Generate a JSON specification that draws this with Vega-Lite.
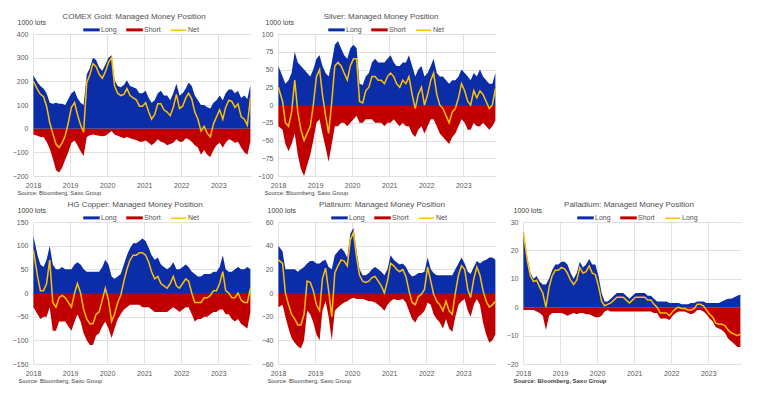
{
"$schema": "https://vega.github.io/schema/vega-lite/v6.json",
"background": "white",
"padding": {"left": 12, "top": 13, "right": 10, "bottom": 10},
"columns": 3,
"bounds": "flush",
"spacing": {"row": 46, "column": 27},
"resolve": {"scale": {"color": "independent"}, "legend": {"color": "independent"}},
"config": {
 "font": "Liberation Sans",
 "view": {"stroke": null},
 "axis": {"labelFontSize": 7, "labelColor": "#595959", "domain": false, "ticks": false, "gridColor": "#d9d9d9", "gridWidth": 0.8, "titleFontWeight": "normal", "titleColor": "#404040"},
 "axisX": {"labelFlush": false, "labelPadding": 5, "titleFontSize": 5.8, "titleAnchor": "start", "titleAlign": "left", "titleBaseline": "alphabetic", "titleY": 18, "grid": true},
 "axisY": {"labelPadding": 5, "titleAngle": 0, "titleAlign": "left", "titleBaseline": "alphabetic", "titleY": -10, "titleFontSize": 7, "grid": true},
 "title": {"fontSize": 8, "fontWeight": "normal", "color": "#505050", "anchor": "middle", "frame": "group", "offset": 0, "dy": 7, "baseline": "alphabetic"},
 "legend": {"labelFontSize": 7, "labelColor": "#505050", "symbolSize": 225, "columnPadding": 7, "labelOffset": 1, "padding": 0}
},
"datasets": {
 "gold": [
  {"d":"2018-01-05","L":225,"S":-25,"N":200},{"d":"2018-02-15","L":195,"S":-30,"N":165},{"d":"2018-03-15","L":180,"S":-35,"N":145},{"d":"2018-04-15","L":170,"S":-35,"N":135},{"d":"2018-05-15","L":150,"S":-55,"N":95},{"d":"2018-06-15","L":110,"S":-85,"N":25},{"d":"2018-07-15","L":105,"S":-125,"N":-20},{"d":"2018-08-15","L":110,"S":-175,"N":-65},{"d":"2018-09-15","L":105,"S":-185,"N":-80},{"d":"2018-10-15","L":105,"S":-165,"N":-60},{"d":"2018-11-15","L":100,"S":-130,"N":-30},{"d":"2018-12-15","L":125,"S":-100,"N":25},
  {"d":"2019-01-15","L":150,"S":-60,"N":90},{"d":"2019-02-15","L":160,"S":-50,"N":110},{"d":"2019-03-15","L":130,"S":-70,"N":60},{"d":"2019-04-15","L":110,"S":-95,"N":15},{"d":"2019-05-15","L":100,"S":-115,"N":-15},{"d":"2019-06-15","L":230,"S":-35,"N":195},{"d":"2019-07-15","L":255,"S":-28,"N":227},{"d":"2019-08-15","L":300,"S":-25,"N":275},{"d":"2019-09-15","L":290,"S":-28,"N":262},{"d":"2019-10-15","L":260,"S":-30,"N":230},{"d":"2019-11-15","L":245,"S":-32,"N":213},{"d":"2019-12-15","L":270,"S":-30,"N":240},
  {"d":"2020-01-15","L":300,"S":-20,"N":280},{"d":"2020-02-15","L":310,"S":-10,"N":300},{"d":"2020-03-15","L":205,"S":-25,"N":180},{"d":"2020-04-15","L":180,"S":-30,"N":150},{"d":"2020-05-15","L":175,"S":-35,"N":140},{"d":"2020-06-15","L":185,"S":-40,"N":145},{"d":"2020-07-15","L":205,"S":-35,"N":170},{"d":"2020-08-15","L":180,"S":-40,"N":140},{"d":"2020-09-15","L":175,"S":-45,"N":130},{"d":"2020-10-15","L":170,"S":-48,"N":122},{"d":"2020-11-15","L":150,"S":-55,"N":95},{"d":"2020-12-15","L":150,"S":-55,"N":95},
  {"d":"2021-01-15","L":160,"S":-50,"N":110},{"d":"2021-02-15","L":130,"S":-60,"N":70},{"d":"2021-03-15","L":110,"S":-70,"N":40},{"d":"2021-04-15","L":120,"S":-60,"N":60},{"d":"2021-05-15","L":150,"S":-45,"N":105},{"d":"2021-06-15","L":160,"S":-55,"N":105},{"d":"2021-07-15","L":140,"S":-60,"N":80},{"d":"2021-08-15","L":140,"S":-70,"N":70},{"d":"2021-09-15","L":120,"S":-65,"N":55},{"d":"2021-10-15","L":150,"S":-60,"N":90},{"d":"2021-11-15","L":190,"S":-45,"N":145},{"d":"2021-12-15","L":140,"S":-55,"N":85},
  {"d":"2022-01-15","L":150,"S":-55,"N":95},{"d":"2022-02-15","L":170,"S":-40,"N":130},{"d":"2022-03-15","L":195,"S":-45,"N":150},{"d":"2022-04-15","L":180,"S":-55,"N":125},{"d":"2022-05-15","L":140,"S":-70,"N":70},{"d":"2022-06-15","L":120,"S":-80,"N":40},{"d":"2022-07-15","L":100,"S":-110,"N":-10},{"d":"2022-08-15","L":100,"S":-90,"N":10},{"d":"2022-09-15","L":90,"S":-110,"N":-20},{"d":"2022-10-15","L":85,"S":-120,"N":-35},{"d":"2022-11-15","L":110,"S":-90,"N":20},{"d":"2022-12-15","L":120,"S":-70,"N":50},
  {"d":"2023-01-15","L":140,"S":-60,"N":80},{"d":"2023-02-15","L":120,"S":-80,"N":40},{"d":"2023-03-15","L":150,"S":-60,"N":90},{"d":"2023-04-15","L":165,"S":-45,"N":120},{"d":"2023-05-15","L":165,"S":-50,"N":115},{"d":"2023-06-15","L":150,"S":-60,"N":90},{"d":"2023-07-15","L":160,"S":-55,"N":105},{"d":"2023-08-15","L":130,"S":-80,"N":50},{"d":"2023-09-15","L":140,"S":-100,"N":40},{"d":"2023-10-15","L":125,"S":-110,"N":15},{"d":"2023-11-14","L":185,"S":-55,"N":130}
 ],
 "silver": [
  {"d":"2018-01-05","L":55,"S":-30,"N":25},{"d":"2018-02-15","L":40,"S":-35,"N":5},{"d":"2018-03-15","L":30,"S":-55,"N":-25},{"d":"2018-04-15","L":35,"S":-65,"N":-30},{"d":"2018-05-15","L":45,"S":-55,"N":-10},{"d":"2018-06-15","L":75,"S":-40,"N":35},{"d":"2018-07-15","L":60,"S":-70,"N":-10},{"d":"2018-08-15","L":55,"S":-90,"N":-35},{"d":"2018-09-15","L":50,"S":-100,"N":-50},{"d":"2018-10-15","L":45,"S":-85,"N":-40},{"d":"2018-11-15","L":40,"S":-70,"N":-30},{"d":"2018-12-15","L":50,"S":-50,"N":0},
  {"d":"2019-01-15","L":65,"S":-25,"N":40},{"d":"2019-02-15","L":70,"S":-20,"N":50},{"d":"2019-03-15","L":55,"S":-40,"N":15},{"d":"2019-04-15","L":45,"S":-60,"N":-15},{"d":"2019-05-15","L":40,"S":-80,"N":-40},{"d":"2019-06-15","L":60,"S":-55,"N":5},{"d":"2019-07-15","L":85,"S":-30,"N":55},{"d":"2019-08-15","L":90,"S":-30,"N":60},{"d":"2019-09-15","L":80,"S":-25,"N":55},{"d":"2019-10-15","L":70,"S":-25,"N":45},{"d":"2019-11-15","L":65,"S":-30,"N":35},{"d":"2019-12-15","L":80,"S":-25,"N":55},
  {"d":"2020-01-15","L":85,"S":-20,"N":65},{"d":"2020-02-15","L":80,"S":-15,"N":65},{"d":"2020-03-15","L":30,"S":-25,"N":5},{"d":"2020-04-15","L":28,"S":-25,"N":3},{"d":"2020-05-15","L":40,"S":-20,"N":20},{"d":"2020-06-15","L":45,"S":-20,"N":25},{"d":"2020-07-15","L":60,"S":-20,"N":40},{"d":"2020-08-15","L":65,"S":-25,"N":40},{"d":"2020-09-15","L":60,"S":-25,"N":35},{"d":"2020-10-15","L":60,"S":-25,"N":35},{"d":"2020-11-15","L":60,"S":-30,"N":30},{"d":"2020-12-15","L":65,"S":-25,"N":40},
  {"d":"2021-01-15","L":70,"S":-25,"N":45},{"d":"2021-02-15","L":60,"S":-20,"N":40},{"d":"2021-03-15","L":55,"S":-25,"N":30},{"d":"2021-04-15","L":55,"S":-30,"N":25},{"d":"2021-05-15","L":60,"S":-25,"N":35},{"d":"2021-06-15","L":60,"S":-30,"N":30},{"d":"2021-07-15","L":70,"S":-30,"N":40},{"d":"2021-08-15","L":55,"S":-40,"N":15},{"d":"2021-09-15","L":40,"S":-45,"N":-5},{"d":"2021-10-15","L":50,"S":-35,"N":15},{"d":"2021-11-15","L":55,"S":-30,"N":25},{"d":"2021-12-15","L":40,"S":-40,"N":0},
  {"d":"2022-01-15","L":45,"S":-30,"N":15},{"d":"2022-02-15","L":55,"S":-20,"N":35},{"d":"2022-03-15","L":65,"S":-20,"N":45},{"d":"2022-04-15","L":45,"S":-30,"N":15},{"d":"2022-05-15","L":40,"S":-40,"N":0},{"d":"2022-06-15","L":40,"S":-45,"N":-5},{"d":"2022-07-15","L":35,"S":-50,"N":-15},{"d":"2022-08-15","L":30,"S":-55,"N":-25},{"d":"2022-09-15","L":35,"S":-45,"N":-10},{"d":"2022-10-15","L":35,"S":-40,"N":-5},{"d":"2022-11-15","L":40,"S":-30,"N":10},{"d":"2022-12-15","L":50,"S":-20,"N":30},
  {"d":"2023-01-15","L":45,"S":-25,"N":20},{"d":"2023-02-15","L":40,"S":-35,"N":5},{"d":"2023-03-15","L":35,"S":-35,"N":0},{"d":"2023-04-15","L":45,"S":-25,"N":20},{"d":"2023-05-15","L":40,"S":-30,"N":10},{"d":"2023-06-15","L":50,"S":-30,"N":20},{"d":"2023-07-15","L":40,"S":-25,"N":15},{"d":"2023-08-15","L":35,"S":-30,"N":5},{"d":"2023-09-15","L":30,"S":-35,"N":-5},{"d":"2023-10-15","L":30,"S":-30,"N":0},{"d":"2023-11-14","L":45,"S":-22,"N":23}
 ],
 "copper": [
  {"d":"2018-01-05","L":120,"S":-30,"N":90},{"d":"2018-02-15","L":80,"S":-45,"N":35},{"d":"2018-03-15","L":60,"S":-55,"N":5},{"d":"2018-04-15","L":55,"S":-50,"N":5},{"d":"2018-05-15","L":70,"S":-50,"N":20},{"d":"2018-06-15","L":100,"S":-30,"N":70},{"d":"2018-07-15","L":60,"S":-80,"N":-20},{"d":"2018-08-15","L":50,"S":-80,"N":-30},{"d":"2018-09-15","L":50,"S":-60,"N":-10},{"d":"2018-10-15","L":55,"S":-60,"N":-5},{"d":"2018-11-15","L":50,"S":-60,"N":-10},{"d":"2018-12-15","L":50,"S":-70,"N":-20},
  {"d":"2019-01-15","L":50,"S":-80,"N":-30},{"d":"2019-02-15","L":60,"S":-60,"N":0},{"d":"2019-03-15","L":65,"S":-45,"N":20},{"d":"2019-04-15","L":60,"S":-60,"N":0},{"d":"2019-05-15","L":50,"S":-85,"N":-35},{"d":"2019-06-15","L":45,"S":-100,"N":-55},{"d":"2019-07-15","L":45,"S":-110,"N":-65},{"d":"2019-08-15","L":45,"S":-110,"N":-65},{"d":"2019-09-15","L":45,"S":-90,"N":-45},{"d":"2019-10-15","L":45,"S":-85,"N":-40},{"d":"2019-11-15","L":55,"S":-70,"N":-15},{"d":"2019-12-15","L":70,"S":-60,"N":10},
  {"d":"2020-01-15","L":60,"S":-75,"N":-15},{"d":"2020-02-15","L":35,"S":-95,"N":-60},{"d":"2020-03-15","L":30,"S":-75,"N":-45},{"d":"2020-04-15","L":35,"S":-55,"N":-20},{"d":"2020-05-15","L":40,"S":-45,"N":-5},{"d":"2020-06-15","L":60,"S":-35,"N":25},{"d":"2020-07-15","L":80,"S":-30,"N":50},{"d":"2020-08-15","L":95,"S":-25,"N":70},{"d":"2020-09-15","L":105,"S":-25,"N":80},{"d":"2020-10-15","L":105,"S":-25,"N":80},{"d":"2020-11-15","L":110,"S":-25,"N":85},{"d":"2020-12-15","L":115,"S":-30,"N":85},
  {"d":"2021-01-15","L":110,"S":-30,"N":80},{"d":"2021-02-15","L":95,"S":-30,"N":65},{"d":"2021-03-15","L":80,"S":-35,"N":45},{"d":"2021-04-15","L":70,"S":-40,"N":30},{"d":"2021-05-15","L":75,"S":-40,"N":35},{"d":"2021-06-15","L":60,"S":-40,"N":20},{"d":"2021-07-15","L":55,"S":-40,"N":15},{"d":"2021-08-15","L":50,"S":-40,"N":10},{"d":"2021-09-15","L":55,"S":-35,"N":20},{"d":"2021-10-15","L":65,"S":-30,"N":35},{"d":"2021-11-15","L":50,"S":-35,"N":15},{"d":"2021-12-15","L":50,"S":-40,"N":10},
  {"d":"2022-01-15","L":55,"S":-35,"N":20},{"d":"2022-02-15","L":60,"S":-30,"N":30},{"d":"2022-03-15","L":55,"S":-30,"N":25},{"d":"2022-04-15","L":45,"S":-45,"N":0},{"d":"2022-05-15","L":40,"S":-60,"N":-20},{"d":"2022-06-15","L":35,"S":-55,"N":-20},{"d":"2022-07-15","L":35,"S":-55,"N":-20},{"d":"2022-08-15","L":40,"S":-50,"N":-10},{"d":"2022-09-15","L":40,"S":-50,"N":-10},{"d":"2022-10-15","L":40,"S":-45,"N":-5},{"d":"2022-11-15","L":45,"S":-40,"N":5},{"d":"2022-12-15","L":45,"S":-40,"N":5},
  {"d":"2023-01-15","L":55,"S":-35,"N":20},{"d":"2023-02-15","L":80,"S":-35,"N":45},{"d":"2023-03-15","L":50,"S":-45,"N":5},{"d":"2023-04-15","L":45,"S":-45,"N":0},{"d":"2023-05-15","L":45,"S":-55,"N":-10},{"d":"2023-06-15","L":50,"S":-60,"N":-10},{"d":"2023-07-15","L":55,"S":-55,"N":0},{"d":"2023-08-15","L":50,"S":-65,"N":-15},{"d":"2023-09-15","L":50,"S":-70,"N":-20},{"d":"2023-10-15","L":55,"S":-75,"N":-20},{"d":"2023-11-14","L":50,"S":-40,"N":10}
 ],
 "plat": [
  {"d":"2018-01-05","L":40,"S":-12,"N":28},{"d":"2018-02-15","L":35,"S":-10,"N":25},{"d":"2018-03-15","L":20,"S":-20,"N":0},{"d":"2018-04-15","L":20,"S":-30,"N":-10},{"d":"2018-05-15","L":20,"S":-38,"N":-18},{"d":"2018-06-15","L":20,"S":-42,"N":-22},{"d":"2018-07-15","L":18,"S":-45,"N":-27},{"d":"2018-08-15","L":20,"S":-47,"N":-27},{"d":"2018-09-15","L":22,"S":-40,"N":-18},{"d":"2018-10-15","L":25,"S":-15,"N":10},{"d":"2018-11-15","L":27,"S":-18,"N":9},{"d":"2018-12-15","L":27,"S":-25,"N":2},
  {"d":"2019-01-15","L":25,"S":-35,"N":-10},{"d":"2019-02-15","L":25,"S":-40,"N":-15},{"d":"2019-03-15","L":27,"S":-15,"N":12},{"d":"2019-04-15","L":28,"S":-7,"N":21},{"d":"2019-05-15","L":22,"S":-20,"N":2},{"d":"2019-06-15","L":20,"S":-40,"N":-20},{"d":"2019-07-15","L":32,"S":-15,"N":17},{"d":"2019-08-15","L":35,"S":-12,"N":23},{"d":"2019-09-15","L":38,"S":-10,"N":28},{"d":"2019-10-15","L":35,"S":-8,"N":27},{"d":"2019-11-15","L":30,"S":-7,"N":23},{"d":"2019-12-15","L":50,"S":-5,"N":45},
  {"d":"2020-01-15","L":55,"S":-4,"N":51},{"d":"2020-02-15","L":35,"S":-5,"N":30},{"d":"2020-03-15","L":20,"S":-5,"N":15},{"d":"2020-04-15","L":15,"S":-5,"N":10},{"d":"2020-05-15","L":15,"S":-6,"N":9},{"d":"2020-06-15","L":17,"S":-7,"N":10},{"d":"2020-07-15","L":20,"S":-7,"N":13},{"d":"2020-08-15","L":22,"S":-8,"N":14},{"d":"2020-09-15","L":20,"S":-10,"N":10},{"d":"2020-10-15","L":18,"S":-12,"N":6},{"d":"2020-11-15","L":15,"S":-15,"N":0},{"d":"2020-12-15","L":20,"S":-10,"N":10},
  {"d":"2021-01-15","L":32,"S":-7,"N":25},{"d":"2021-02-15","L":28,"S":-5,"N":23},{"d":"2021-03-15","L":26,"S":-6,"N":20},{"d":"2021-04-15","L":24,"S":-6,"N":18},{"d":"2021-05-15","L":25,"S":-5,"N":20},{"d":"2021-06-15","L":22,"S":-8,"N":14},{"d":"2021-07-15","L":17,"S":-15,"N":2},{"d":"2021-08-15","L":14,"S":-22,"N":-8},{"d":"2021-09-15","L":15,"S":-25,"N":-10},{"d":"2021-10-15","L":17,"S":-20,"N":-3},{"d":"2021-11-15","L":17,"S":-18,"N":-1},{"d":"2021-12-15","L":18,"S":-15,"N":3},
  {"d":"2022-01-15","L":30,"S":-8,"N":22},{"d":"2022-02-15","L":20,"S":-10,"N":10},{"d":"2022-03-15","L":17,"S":-18,"N":-1},{"d":"2022-04-15","L":15,"S":-22,"N":-7},{"d":"2022-05-15","L":15,"S":-25,"N":-10},{"d":"2022-06-15","L":15,"S":-30,"N":-15},{"d":"2022-07-15","L":15,"S":-22,"N":-7},{"d":"2022-08-15","L":15,"S":-30,"N":-15},{"d":"2022-09-15","L":15,"S":-33,"N":-18},{"d":"2022-10-15","L":20,"S":-20,"N":0},{"d":"2022-11-15","L":25,"S":-10,"N":15},{"d":"2022-12-15","L":30,"S":-7,"N":23},
  {"d":"2023-01-15","L":25,"S":-5,"N":20},{"d":"2023-02-15","L":18,"S":-15,"N":3},{"d":"2023-03-15","L":16,"S":-20,"N":-4},{"d":"2023-04-15","L":22,"S":-10,"N":12},{"d":"2023-05-15","L":27,"S":-5,"N":22},{"d":"2023-06-15","L":25,"S":-10,"N":15},{"d":"2023-07-15","L":27,"S":-25,"N":2},{"d":"2023-08-15","L":28,"S":-35,"N":-7},{"d":"2023-09-15","L":30,"S":-42,"N":-12},{"d":"2023-10-15","L":30,"S":-40,"N":-10},{"d":"2023-11-14","L":28,"S":-35,"N":-7}
 ],
 "pall": [
  {"d":"2018-01-05","L":27,"S":-1,"N":26},{"d":"2018-02-15","L":17,"S":-1,"N":16},{"d":"2018-03-15","L":12,"S":-1,"N":11},{"d":"2018-04-15","L":10,"S":-1,"N":9},{"d":"2018-05-15","L":11,"S":-1.5,"N":9.5},{"d":"2018-06-15","L":9,"S":-2,"N":7},{"d":"2018-07-15","L":8,"S":-3,"N":5},{"d":"2018-08-15","L":8,"S":-8,"N":0},{"d":"2018-09-15","L":10,"S":-3,"N":7},{"d":"2018-10-15","L":13,"S":-2,"N":11},{"d":"2018-11-15","L":15,"S":-2,"N":13},{"d":"2018-12-15","L":15,"S":-2,"N":13},
  {"d":"2019-01-15","L":16,"S":-2,"N":14},{"d":"2019-02-15","L":16,"S":-2.5,"N":13.5},{"d":"2019-03-15","L":15,"S":-3,"N":12},{"d":"2019-04-15","L":12,"S":-2.5,"N":9.5},{"d":"2019-05-15","L":10,"S":-2,"N":8},{"d":"2019-06-15","L":12,"S":-2.5,"N":9.5},{"d":"2019-07-15","L":16,"S":-2,"N":14},{"d":"2019-08-15","L":14,"S":-2,"N":12},{"d":"2019-09-15","L":15,"S":-2.5,"N":12.5},{"d":"2019-10-15","L":17,"S":-2.5,"N":14.5},{"d":"2019-11-15","L":15,"S":-3,"N":12},{"d":"2019-12-15","L":15,"S":-3.5,"N":11.5},
  {"d":"2020-01-15","L":11,"S":-3.5,"N":7.5},{"d":"2020-02-15","L":5,"S":-3,"N":2},{"d":"2020-03-15","L":2,"S":-1.5,"N":0.5},{"d":"2020-04-15","L":2,"S":-1,"N":1},{"d":"2020-05-15","L":3,"S":-1.5,"N":1.5},{"d":"2020-06-15","L":4,"S":-1.5,"N":2.5},{"d":"2020-07-15","L":5,"S":-1.5,"N":3.5},{"d":"2020-08-15","L":5,"S":-1.5,"N":3.5},{"d":"2020-09-15","L":5,"S":-1.5,"N":3.5},{"d":"2020-10-15","L":4,"S":-1.5,"N":2.5},{"d":"2020-11-15","L":3,"S":-1.5,"N":1.5},{"d":"2020-12-15","L":4,"S":-1.5,"N":2.5},
  {"d":"2021-01-15","L":5,"S":-1.5,"N":3.5},{"d":"2021-02-15","L":5,"S":-1.5,"N":3.5},{"d":"2021-03-15","L":5,"S":-1.5,"N":3.5},{"d":"2021-04-15","L":5,"S":-1.5,"N":3.5},{"d":"2021-05-15","L":4,"S":-1.5,"N":2.5},{"d":"2021-06-15","L":4,"S":-1.5,"N":2.5},{"d":"2021-07-15","L":3,"S":-2,"N":1},{"d":"2021-08-15","L":2,"S":-2,"N":0},{"d":"2021-09-15","L":2,"S":-4,"N":-2},{"d":"2021-10-15","L":2,"S":-4,"N":-2},{"d":"2021-11-15","L":2,"S":-4,"N":-2},{"d":"2021-12-15","L":1.5,"S":-4.5,"N":-3},
  {"d":"2022-01-15","L":1.5,"S":-3,"N":-1.5},{"d":"2022-02-15","L":1.5,"S":-2,"N":-0.5},{"d":"2022-03-15","L":1.5,"S":-1.5,"N":0},{"d":"2022-04-15","L":1,"S":-1.5,"N":-0.5},{"d":"2022-05-15","L":1,"S":-1.5,"N":-0.5},{"d":"2022-06-15","L":1,"S":-2,"N":-1},{"d":"2022-07-15","L":1.5,"S":-2.5,"N":-1},{"d":"2022-08-15","L":1.5,"S":-2,"N":-0.5},{"d":"2022-09-15","L":2,"S":-1,"N":1},{"d":"2022-10-15","L":2,"S":-1,"N":1},{"d":"2022-11-15","L":2,"S":-1.5,"N":0.5},{"d":"2022-12-15","L":1.5,"S":-2.5,"N":-1},
  {"d":"2023-01-15","L":1.5,"S":-4,"N":-2.5},{"d":"2023-02-15","L":1.5,"S":-5,"N":-3.5},{"d":"2023-03-15","L":1.5,"S":-7,"N":-5.5},{"d":"2023-04-15","L":1.5,"S":-7.5,"N":-6},{"d":"2023-05-15","L":2,"S":-8,"N":-6},{"d":"2023-06-15","L":2.5,"S":-9,"N":-6.5},{"d":"2023-07-15","L":3,"S":-11,"N":-8},{"d":"2023-08-15","L":3,"S":-12,"N":-9},{"d":"2023-09-15","L":3.5,"S":-13,"N":-9.5},{"d":"2023-10-15","L":4,"S":-14,"N":-10},{"d":"2023-11-14","L":4.5,"S":-14,"N":-9.5}
 ]
},
"concat": [
 {
  "title": {"text": "COMEX Gold: Managed Money Position", "dx": -8},
  "width": 218, "height": 142,
  "data": {"name": "gold"},
  "transform": [{"fold": ["L", "S", "N"], "as": ["k", "v"]}],
  "encoding": {
   "x": {"field": "d", "type": "temporal", "scale": {"domain": [{"year": 2018, "month": 1, "date": 1}, {"year": 2023, "month": 11, "date": 20}]}, "axis": {"title": "Source: Bloomberg, Saxo Group", "titleX": -16, "format": "%Y", "tickCount": {"interval": "year", "step": 1}}},
   "y": {"field": "v", "type": "quantitative", "stack": null, "scale": {"domain": [-200, 400], "nice": false}, "axis": {"title": "1000 lots", "titleX": -16, "values": [-200, -100, 0, 100, 200, 300, 400]}},
   "color": {"field": "k", "type": "nominal", "scale": {"domain": ["L", "S", "N"], "range": ["#0b2ea8", "#c00000", "#ffc000"]}, "legend": {"title": null, "orient": "none", "legendX": 50, "legendY": -13, "direction": "horizontal", "labelExpr": "datum.label === 'L' ? 'Long' : datum.label === 'S' ? 'Short' : 'Net'", "encode": {"symbols": {"update": {"shape": {"signal": "datum.value === 'N' ? 'stroke' : 'M-1,-0.1H1V0.1H-1Z'"}, "fill": {"signal": "datum.value === 'L' ? '#0b2ea8' : datum.value === 'S' ? '#c00000' : 'transparent'"}, "stroke": {"signal": "datum.value === 'N' ? '#ffc000' : 'transparent'"}, "strokeWidth": {"value": 1.5}}}}}}
  },
  "layer": [
   {"transform": [{"filter": "datum.k !== 'N'"}], "mark": {"type": "area"}},
   {"transform": [{"filter": "datum.k === 'N'"}], "mark": {"type": "line", "strokeWidth": 1.5}}
  ]
 },
 {
  "title": {"text": "Silver: Managed Money Position", "dx": -6},
  "width": 218, "height": 142,
  "data": {"name": "silver"},
  "transform": [{"fold": ["L", "S", "N"], "as": ["k", "v"]}],
  "encoding": {
   "x": {"field": "d", "type": "temporal", "scale": {"domain": [{"year": 2018, "month": 1, "date": 1}, {"year": 2023, "month": 11, "date": 20}]}, "axis": {"title": "Source: Bloomberg, Saxo Group", "titleX": -14, "format": "%Y", "tickCount": {"interval": "year", "step": 1}}},
   "y": {"field": "v", "type": "quantitative", "stack": null, "scale": {"domain": [-100, 100], "nice": false}, "axis": {"title": "1000 lots", "titleX": -13, "values": [-100, -75, -50, -25, 0, 25, 50, 75, 100]}},
   "color": {"field": "k", "type": "nominal", "scale": {"domain": ["L", "S", "N"], "range": ["#0b2ea8", "#c00000", "#ffc000"]}, "legend": {"title": null, "orient": "none", "legendX": 50, "legendY": -13, "direction": "horizontal", "labelExpr": "datum.label === 'L' ? 'Long' : datum.label === 'S' ? 'Short' : 'Net'", "encode": {"symbols": {"update": {"shape": {"signal": "datum.value === 'N' ? 'stroke' : 'M-1,-0.1H1V0.1H-1Z'"}, "fill": {"signal": "datum.value === 'L' ? '#0b2ea8' : datum.value === 'S' ? '#c00000' : 'transparent'"}, "stroke": {"signal": "datum.value === 'N' ? '#ffc000' : 'transparent'"}, "strokeWidth": {"value": 1.5}}}}}}
  },
  "layer": [
   {"transform": [{"filter": "datum.k !== 'N'"}], "mark": {"type": "area"}},
   {"transform": [{"filter": "datum.k === 'N'"}], "mark": {"type": "line", "strokeWidth": 1.5}}
  ]
 },
 {
  "width": 218, "height": 142,
  "data": {"values": []},
  "mark": "point"
 },
 {
  "title": {"text": "HG Copper: Managed Money Position", "dx": -7},
  "width": 218, "height": 142,
  "data": {"name": "copper"},
  "transform": [{"fold": ["L", "S", "N"], "as": ["k", "v"]}],
  "encoding": {
   "x": {"field": "d", "type": "temporal", "scale": {"domain": [{"year": 2018, "month": 1, "date": 1}, {"year": 2023, "month": 11, "date": 20}]}, "axis": {"title": "Source: Bloomberg, Saxo Group", "titleX": -15, "format": "%Y", "tickCount": {"interval": "year", "step": 1}}},
   "y": {"field": "v", "type": "quantitative", "stack": null, "scale": {"domain": [-150, 150], "nice": false}, "axis": {"title": "1000 lots", "titleX": -16, "values": [-150, -100, -50, 0, 50, 100, 150]}},
   "color": {"field": "k", "type": "nominal", "scale": {"domain": ["L", "S", "N"], "range": ["#0b2ea8", "#c00000", "#ffc000"]}, "legend": {"title": null, "orient": "none", "legendX": 50, "legendY": -13, "direction": "horizontal", "labelExpr": "datum.label === 'L' ? 'Long' : datum.label === 'S' ? 'Short' : 'Net'", "encode": {"symbols": {"update": {"shape": {"signal": "datum.value === 'N' ? 'stroke' : 'M-1,-0.1H1V0.1H-1Z'"}, "fill": {"signal": "datum.value === 'L' ? '#0b2ea8' : datum.value === 'S' ? '#c00000' : 'transparent'"}, "stroke": {"signal": "datum.value === 'N' ? '#ffc000' : 'transparent'"}, "strokeWidth": {"value": 1.5}}}}}}
  },
  "layer": [
   {"transform": [{"filter": "datum.k !== 'N'"}], "mark": {"type": "area"}},
   {"transform": [{"filter": "datum.k === 'N'"}], "mark": {"type": "line", "strokeWidth": 1.5}}
  ]
 },
 {
  "title": {"text": "Platinum: Managed Money Position", "dx": -5},
  "width": 218, "height": 142,
  "data": {"name": "plat"},
  "transform": [{"fold": ["L", "S", "N"], "as": ["k", "v"]}],
  "encoding": {
   "x": {"field": "d", "type": "temporal", "scale": {"domain": [{"year": 2018, "month": 1, "date": 1}, {"year": 2023, "month": 11, "date": 20}]}, "axis": {"title": "Source: Bloomberg, Saxo Group", "titleX": -11, "format": "%Y", "tickCount": {"interval": "year", "step": 1}}},
   "y": {"field": "v", "type": "quantitative", "stack": null, "scale": {"domain": [-60, 60], "nice": false}, "axis": {"title": "1000 lots", "titleX": -11, "values": [-60, -40, -20, 0, 20, 40, 60]}},
   "color": {"field": "k", "type": "nominal", "scale": {"domain": ["L", "S", "N"], "range": ["#0b2ea8", "#c00000", "#ffc000"]}, "legend": {"title": null, "orient": "none", "legendX": 53, "legendY": -13, "direction": "horizontal", "labelExpr": "datum.label === 'L' ? 'Long' : datum.label === 'S' ? 'Short' : 'Net'", "encode": {"symbols": {"update": {"shape": {"signal": "datum.value === 'N' ? 'stroke' : 'M-1,-0.1H1V0.1H-1Z'"}, "fill": {"signal": "datum.value === 'L' ? '#0b2ea8' : datum.value === 'S' ? '#c00000' : 'transparent'"}, "stroke": {"signal": "datum.value === 'N' ? '#ffc000' : 'transparent'"}, "strokeWidth": {"value": 1.5}}}}}}
  },
  "layer": [
   {"transform": [{"filter": "datum.k !== 'N'"}], "mark": {"type": "area"}},
   {"transform": [{"filter": "datum.k === 'N'"}], "mark": {"type": "line", "strokeWidth": 1.5}}
  ]
 },
 {
  "title": {"text": "Palladium:  Managed  Money Position", "dx": -3},
  "width": 218, "height": 142,
  "data": {"name": "pall"},
  "transform": [{"fold": ["L", "S", "N"], "as": ["k", "v"]}],
  "encoding": {
   "x": {"field": "d", "type": "temporal", "scale": {"domain": [{"year": 2018, "month": 1, "date": 1}, {"year": 2023, "month": 11, "date": 20}]}, "axis": {"title": "Source: Bloomberg, Saxo Group", "titleX": -10, "titleFontWeight": "bold", "titleFontSize": 6, "format": "%Y", "tickCount": {"interval": "year", "step": 1}}},
   "y": {"field": "v", "type": "quantitative", "stack": null, "scale": {"domain": [-20, 30], "nice": false}, "axis": {"title": "1000 lots", "titleX": -10, "values": [-20, -10, 0, 10, 20, 30]}},
   "color": {"field": "k", "type": "nominal", "scale": {"domain": ["L", "S", "N"], "range": ["#0b2ea8", "#c00000", "#ffc000"]}, "legend": {"title": null, "orient": "none", "legendX": 54, "legendY": -13, "direction": "horizontal", "labelExpr": "datum.label === 'S' ? 'Short' : 'Long'", "encode": {"symbols": {"update": {"shape": {"signal": "datum.value === 'N' ? 'stroke' : 'M-1,-0.1H1V0.1H-1Z'"}, "fill": {"signal": "datum.value === 'L' ? '#0b2ea8' : datum.value === 'S' ? '#c00000' : 'transparent'"}, "stroke": {"signal": "datum.value === 'N' ? '#ffc000' : 'transparent'"}, "strokeWidth": {"value": 1.5}}}}}}
  },
  "layer": [
   {"transform": [{"filter": "datum.k !== 'N'"}], "mark": {"type": "area"}},
   {"transform": [{"filter": "datum.k === 'N'"}], "mark": {"type": "line", "strokeWidth": 1.5}}
  ]
 }
]
}
